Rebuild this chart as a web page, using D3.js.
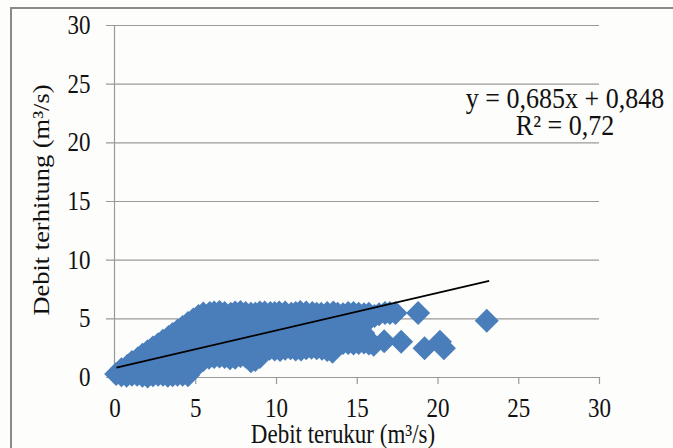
<!DOCTYPE html>
<html><head><meta charset="utf-8">
<script src="https://cdn.jsdelivr.net/npm/d3@7"></script>
<style>html,body{margin:0;padding:0;background:#fff;overflow:hidden}</style>
</head><body><svg id="c" width="673" height="448"></svg>
<script>
const xTicks = [0, 5, 10, 15, 20, 25, 30];
const yTicks = [0, 5, 10, 15, 20, 25, 30];
const xTitle = "Debit terukur (m³/s)";
const yTitle = "Debit terhitung (m³/s)";
const equationLines = ["y = 0,685x + 0,848", "R² = 0,72"];
const trendX = [0.12, 23.2];
const trendY = [0.8, 8.2];

const debitTerukur = [
  0.1,
  0.75, 0.8,
  1.4, 1.35, 1.45,
  2.05, 2.0, 2.1, 2.05,
  2.7, 2.65, 2.75, 2.7,
  3.3, 3.35, 3.25, 3.3, 3.35,
  3.9, 3.95, 3.85, 3.9, 3.95, 3.9,
  4.55, 4.5, 4.6, 4.55, 4.5, 4.6, 4.55,
  5.2, 5.25, 5.15, 5.2, 5.25, 5.2,
  5.85, 5.8, 5.9, 5.85, 5.8, 5.9,
  6.5, 6.55, 6.45, 6.5, 6.55, 6.5,
  7.15, 7.1, 7.2, 7.15, 7.1, 7.2,
  7.8, 7.85, 7.75, 7.8, 7.85, 7.8,
  8.45, 8.5, 8.4, 8.45, 8.5, 8.45,
  9.0, 9.05, 8.95, 9.0, 9.05, 9.0,
  9.6, 9.65, 9.55, 9.6, 9.65,
  10.25, 10.2, 10.3, 10.25, 10.2,
  10.9, 10.95, 10.85, 10.9, 10.95,
  11.55, 11.5, 11.6, 11.55, 11.5,
  12.2, 12.25, 12.15, 12.2, 12.25,
  12.85, 12.8, 12.9, 12.85, 12.8,
  13.5, 13.55, 13.45, 13.5, 13.55,
  14.15, 14.1, 14.2, 14.15,
  14.8, 14.85, 14.75, 14.8,
  15.45, 15.4, 15.5, 15.45,
  16.05, 16.1,
  16.7, 16.75,
  17.4,
  17.75,
  0.43, 1.08, 1.73, 2.38, 3.0, 3.6, 4.22, 4.88, 5.5,
  6.17, 6.82, 7.47, 8.12, 8.72, 9.3, 9.92, 10.57, 11.22, 11.87, 12.52, 13.17, 13.82, 14.47, 15.12, 15.75, 16.38, 17.05,
  0.43, 1.08, 1.73, 2.38, 3.0, 3.6, 4.22, 5.5, 6.17, 6.82, 7.47, 8.12, 8.72, 9.92, 10.57, 11.22, 11.87, 12.52, 13.17, 14.47, 15.12, 15.75,
  18.8, 19.2, 20.15, 20.4, 23.05
];
const debitTerhitung = [
  0.25,
  0.1, 0.95,
  0.2, 0.9, 1.6,
  0.05, 0.8, 1.5, 2.2,
  0.2, 1.0, 1.85, 2.8,
  0.1, 0.9, 1.7, 2.55, 3.4,
  0.2, 1.0, 1.8, 2.6, 3.35, 3.95,
  0.15, 0.95, 1.75, 2.6, 3.4, 4.2, 4.6,
  1.1, 1.9, 2.7, 3.5, 4.35, 5.2,
  1.65, 2.45, 3.3, 4.1, 4.9, 5.45,
  1.75, 2.55, 3.4, 4.2, 5.0, 5.55,
  1.6, 2.45, 3.3, 4.1, 4.9, 5.4,
  1.8, 2.6, 3.45, 4.25, 5.05, 5.55,
  1.35, 2.15, 3.0, 3.8, 4.6, 5.4,
  1.7, 2.55, 3.35, 4.2, 5.0, 5.5,
  2.4, 3.2, 4.0, 4.8, 5.45,
  2.3, 3.15, 3.95, 4.75, 5.5,
  2.45, 3.25, 4.05, 4.85, 5.4,
  2.35, 3.2, 4.0, 4.8, 5.55,
  2.5, 3.3, 4.1, 4.9, 5.45,
  2.4, 3.2, 4.0, 4.8, 5.4,
  2.15, 3.0, 3.8, 4.6, 5.5,
  2.9, 3.7, 4.5, 5.35,
  2.85, 3.65, 4.5, 5.45,
  2.95, 3.75, 4.55, 5.35,
  2.75, 5.2,
  3.05, 5.45,
  5.45,
  3.0,
  0.66, 1.28, 1.9, 2.51, 3.1, 3.67, 4.26, 4.89, 5.42,
  5.5, 5.45, 5.5, 5.45, 5.4, 5.5, 5.45, 5.5, 5.45, 5.5, 5.4, 5.45, 5.4, 5.45, 5.4, 5.4, 5.35, 5.45,
  0.15, 0.2, 0.1, 0.15, 0.2, 0.15, 0.2, 1.45, 1.7, 1.7, 1.65, 1.75, 1.45, 2.35, 2.4, 2.35, 2.45, 2.45, 2.3, 2.9, 2.9, 2.85,
  5.45, 2.45, 3.0, 2.45, 4.8
];

const W = 673, H = 448;
const FONT = "'Liberation Serif', 'Times New Roman', serif";
const STRETCH = 1.15;
const svg = d3.select("#c");
svg.append("rect").attr("width", W).attr("height", H).attr("fill", "#fdfdfb");

// outer chart border
svg.append("path").attr("d", `M11,${H} L11,8 L${W},8`)
  .attr("fill", "none").attr("stroke", "#8a8a8a").attr("stroke-width", 2);

const x = d3.scaleLinear().domain([0, 30]).range([114.5, 599]);
const y = d3.scaleLinear().domain([0, 30]).range([377, 25]);

// horizontal gridlines (extend left as tick marks)
const gridG = svg.append("g").attr("transform", "translate(106,0)")
  .call(d3.axisRight(y).tickValues(yTicks).tickSize(x(30) - 106).tickFormat(""));
gridG.select(".domain").remove();
gridG.selectAll(".tick line").attr("stroke", "#9a9a9a").attr("stroke-width", 1.2);

// y tick labels
const yLab = svg.append("g").attr("transform", `translate(${x(0)},0)`)
  .call(d3.axisLeft(y).tickValues(yTicks).tickSize(0).tickPadding(0));
yLab.select(".domain").remove();
yLab.selectAll(".tick text")
  .attr("x", null).attr("dy", null).attr("y", null)
  .attr("text-anchor", "end")
  .attr("transform", `translate(-24,8.5) scale(1,${STRETCH})`)
  .attr("font-family", FONT).attr("font-size", 23).attr("fill", "#111");

// vertical axis line
svg.append("line").attr("x1", x(0)).attr("x2", x(0)).attr("y1", y(30)).attr("y2", y(0) + 7)
  .attr("stroke", "#9a9a9a").attr("stroke-width", 1.2);

// x axis
const xAx = svg.append("g").attr("transform", `translate(0,${y(0)})`)
  .call(d3.axisBottom(x).tickValues(xTicks).tickSize(7).tickSizeOuter(0));
xAx.select(".domain").attr("stroke", "#9a9a9a").attr("stroke-width", 1.2);
xAx.selectAll(".tick line").attr("stroke", "#9a9a9a").attr("stroke-width", 1.2);
xAx.selectAll(".tick text")
  .attr("y", null).attr("dy", null)
  .attr("transform", `translate(0,39.5) scale(1,${STRETCH})`)
  .attr("font-family", FONT).attr("font-size", 23).attr("fill", "#111");

// points
const r = 12;
const diamond = `M0,${-r}L${r},0L0,${r}L${-r},0Z`;
svg.append("g").selectAll("path").data(d3.range(debitTerukur.length)).join("path")
  .attr("d", diamond)
  .attr("transform", i => `translate(${x(debitTerukur[i])},${y(debitTerhitung[i])})`)
  .attr("fill", "#4a7ebb");

// trendline
svg.append("path")
  .datum(d3.zip(trendX, trendY))
  .attr("d", d3.line().x(d => x(d[0])).y(d => y(d[1])))
  .attr("stroke", "#000").attr("stroke-width", 1.8).attr("fill", "none");

// equation
equationLines.forEach((t, i) => {
  svg.append("text").text(t)
    .attr("text-anchor", "middle")
    .attr("transform", `translate(565,${108 + i * 27}) scale(1,1.1)`)
    .attr("font-family", FONT).attr("font-size", 26).attr("fill", "#111");
});

// axis titles
svg.append("text").text(xTitle)
  .attr("text-anchor", "middle")
  .attr("transform", `translate(343,443) scale(1,${STRETCH})`)
  .attr("font-family", FONT).attr("font-size", 23).attr("fill", "#111");
svg.append("text").text(yTitle)
  .attr("text-anchor", "middle")
  .attr("transform", `translate(49,200) rotate(-90) scale(${STRETCH},1)`)
  .attr("font-family", FONT).attr("font-size", 23).attr("fill", "#111");
</script></body></html>
